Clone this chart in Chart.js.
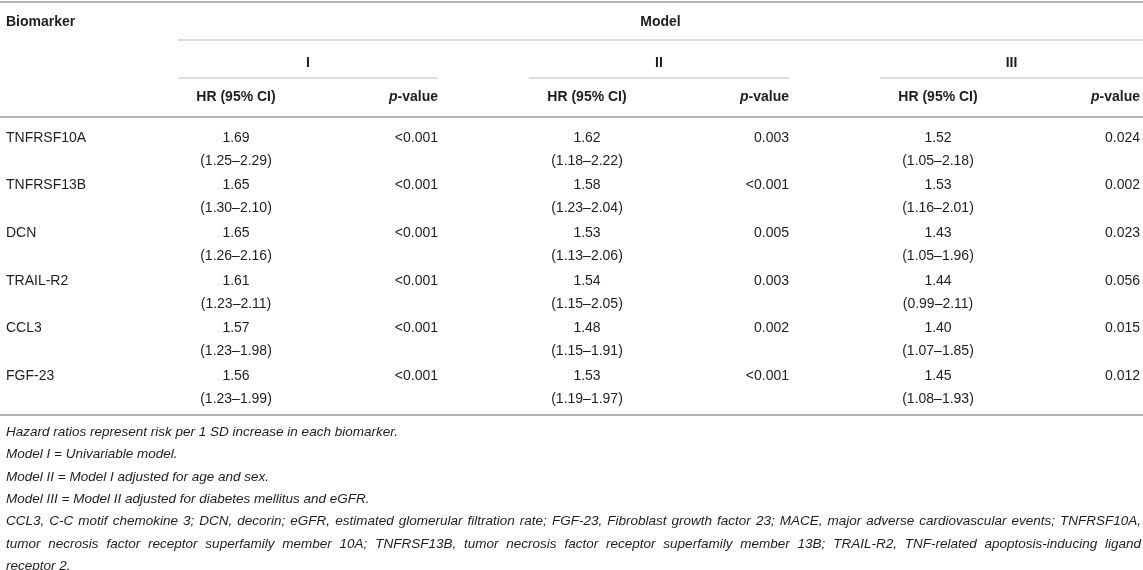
<!DOCTYPE html>
<html>
<head>
<meta charset="utf-8">
<script src="https://cdn.jsdelivr.net/npm/chart.js@4.4.1/dist/chart.umd.min.js"></script>
<style>
  html, body { margin: 0; padding: 0; background: #ffffff; }
  #wrap { width: 1143px; height: 570px; position: relative; }
</style>
</head>
<body>
<div id="wrap"><canvas id="c" width="1143" height="570"></canvas></div>
<script>
// ---------- DATA ----------
const biomarkers = ['TNFRSF10A', 'TNFRSF13B', 'DCN', 'TRAIL-R2', 'CCL3', 'FGF-23'];
const modelLabels = ['I', 'II', 'III'];

const hrModelI     = [1.69, 1.65, 1.65, 1.61, 1.57, 1.56];
const ciLowModelI  = [1.25, 1.30, 1.26, 1.23, 1.23, 1.23];
const ciHighModelI = [2.29, 2.10, 2.16, 2.11, 1.98, 1.99];
const pModelI      = ['<0.001', '<0.001', '<0.001', '<0.001', '<0.001', '<0.001'];

const hrModelII     = [1.62, 1.58, 1.53, 1.54, 1.48, 1.53];
const ciLowModelII  = [1.18, 1.23, 1.13, 1.15, 1.15, 1.19];
const ciHighModelII = [2.22, 2.04, 2.06, 2.05, 1.91, 1.97];
const pModelII      = ['0.003', '<0.001', '0.005', '0.003', '0.002', '<0.001'];

const hrModelIII     = [1.52, 1.53, 1.43, 1.44, 1.40, 1.45];
const ciLowModelIII  = [1.05, 1.16, 1.05, 0.99, 1.07, 1.08];
const ciHighModelIII = [2.18, 2.01, 1.96, 2.11, 1.85, 1.93];
const pModelIII      = ['0.024', '0.002', '0.023', '0.056', '0.015', '0.012'];

const headerBiomarker = 'Biomarker';
const headerModel = 'Model';
const headerHR = 'HR (95% CI)';
const headerP = ['p', '-value'];

const footnotes = [
  'Hazard ratios represent risk per 1 SD increase in each biomarker.',
  'Model I = Univariable model.',
  'Model II = Model I adjusted for age and sex.',
  'Model III = Model II adjusted for diabetes mellitus and eGFR.',
  'CCL3, C-C motif chemokine 3; DCN, decorin; eGFR, estimated glomerular filtration rate; FGF-23, Fibroblast growth factor 23; MACE, major adverse cardiovascular events; TNFRSF10A,',
  'tumor necrosis factor receptor superfamily member 10A; TNFRSF13B, tumor necrosis factor receptor superfamily member 13B; TRAIL-R2, TNF-related apoptosis-inducing ligand',
  'receptor 2.'
];
const footnoteJustified = [false, false, false, false, true, true, false];

// ---------- LAYOUT (table geometry in scale units) ----------
const L = {
  W: 1143, H: 570,
  left: 6, right: 1141,
  groupStart: [178, 529, 880],
  groupEnd:   [438, 789, 1143],
  hrCenter:   [236, 587, 938],
  pRight:     [438, 789, 1140],
  yBiomarker: 22, yModelLine: 40, yModel: 63, yGroupLine: 78, yHead: 97,
  yTopRule: 2, yHeadRule: 117, yBottomRule: 415,
  yRow0: 138, rowH: 47.6, ciOffset: 23,
  yFoot0: 432, footH: 22.4
};

const hrs = [hrModelI, hrModelII, hrModelIII];
const lows = [ciLowModelI, ciLowModelII, ciLowModelIII];
const highs = [ciHighModelI, ciHighModelII, ciHighModelIII];
const ps = [pModelI, pModelII, pModelIII];

const FONT = '"Liberation Sans", Arial, Helvetica, sans-serif';
const TEXT = '#1e1e1e';

// One scatter dataset per model: each point anchors an HR cell; pointRadius 0.
const datasets = modelLabels.map((m, k) => ({
  label: 'Model ' + m,
  data: biomarkers.map((b, i) => ({ x: L.hrCenter[k], y: L.yRow0 + i * L.rowH, hr: hrs[k][i], lo: lows[k][i], hi: highs[k][i], p: ps[k][i] })),
  pointRadius: 0,
  pointHoverRadius: 0,
  showLine: false
}));
// Row-label dataset
datasets.push({
  label: 'Biomarker',
  data: biomarkers.map((b, i) => ({ x: L.left, y: L.yRow0 + i * L.rowH, name: b })),
  pointRadius: 0, pointHoverRadius: 0, showLine: false
});

const tablePlugin = {
  id: 'tablePlugin',
  afterDatasetsDraw(chart) {
    const ctx = chart.ctx;
    const xs = chart.scales.x, ys = chart.scales.y;
    const X = v => xs.getPixelForValue(v);
    const Y = v => ys.getPixelForValue(v);

    ctx.save();
    function hline(x0, x1, y, w, col) {
      ctx.beginPath();
      ctx.strokeStyle = col;
      ctx.lineWidth = w;
      ctx.moveTo(X(x0), Y(y));
      ctx.lineTo(X(x1), Y(y));
      ctx.stroke();
    }
    hline(0, L.W, L.yTopRule, 2, '#b4b4b4');
    hline(L.groupStart[0], L.W, L.yModelLine, 1.2, '#bdbdbd');
    for (let k = 0; k < 3; k++) hline(L.groupStart[k], L.groupEnd[k], L.yGroupLine, 1.2, '#bdbdbd');
    hline(0, L.W, L.yHeadRule, 2, '#b4b4b4');
    hline(0, L.W, L.yBottomRule, 2, '#b4b4b4');

    ctx.fillStyle = TEXT;
    ctx.textBaseline = 'middle';

    // header
    ctx.font = 'bold 14px ' + FONT;
    ctx.textAlign = 'left';
    ctx.fillText(headerBiomarker, X(L.left), Y(L.yBiomarker));
    ctx.textAlign = 'center';
    ctx.fillText(headerModel, X((L.groupStart[0] + L.W) / 2), Y(L.yBiomarker));
    for (let k = 0; k < 3; k++) {
      ctx.font = 'bold 14px ' + FONT;
      ctx.textAlign = 'center';
      ctx.fillText(modelLabels[k], X((L.groupStart[k] + L.groupEnd[k]) / 2), Y(L.yModel));
      ctx.fillText(headerHR, X(L.hrCenter[k]), Y(L.yHead));
      ctx.textAlign = 'left';
      ctx.font = 'bold 14px ' + FONT;
      const w2 = ctx.measureText(headerP[1]).width;
      ctx.font = 'italic bold 14px ' + FONT;
      const w1 = ctx.measureText(headerP[0]).width;
      const xr = X(L.pRight[k]);
      ctx.fillText(headerP[0], xr - w2 - w1, Y(L.yHead));
      ctx.font = 'bold 14px ' + FONT;
      ctx.fillText(headerP[1], xr - w2, Y(L.yHead));
    }

    // body cells from dataset elements
    ctx.font = '14px ' + FONT;
    chart.data.datasets.forEach((ds, di) => {
      const meta = chart.getDatasetMeta(di);
      meta.data.forEach((el, i) => {
        const d = ds.data[i];
        if (d.name !== undefined) {
          ctx.textAlign = 'left';
          ctx.fillText(d.name, el.x, el.y);
        } else {
          ctx.textAlign = 'center';
          ctx.fillText(d.hr.toFixed(2), el.x, el.y);
          ctx.fillText('(' + d.lo.toFixed(2) + '\u2013' + d.hi.toFixed(2) + ')', el.x, Y(d.y + L.ciOffset));
          ctx.textAlign = 'right';
          ctx.fillText(d.p, X(L.pRight[di]), el.y);
        }
      });
    });

    // footnotes
    ctx.font = 'italic 13.5px ' + FONT;
    ctx.textAlign = 'left';
    footnotes.forEach((line, i) => {
      const y = Y(L.yFoot0 + i * L.footH);
      const x0 = X(L.left), x1 = X(L.right);
      if (!footnoteJustified[i]) {
        ctx.fillText(line, x0, y);
      } else {
        const words = line.split(' ');
        const widths = words.map(w => ctx.measureText(w).width);
        const total = widths.reduce((a, b) => a + b, 0);
        const gap = (x1 - x0 - total) / (words.length - 1);
        let x = x0;
        words.forEach((w, j) => { ctx.fillText(w, x, y); x += widths[j] + gap; });
      }
    });
    ctx.restore();
  }
};

new Chart(document.getElementById('c'), {
  type: 'scatter',
  data: { datasets },
  options: {
    responsive: false,
    animation: false,
    events: [],
    layout: { padding: 0 },
    plugins: { legend: { display: false }, tooltip: { enabled: false }, title: { display: false } },
    scales: {
      x: { type: 'linear', display: false, min: 0, max: L.W },
      y: { type: 'linear', display: false, min: 0, max: L.H, reverse: true }
    }
  },
  plugins: [tablePlugin]
});
</script>
</body>
</html>
